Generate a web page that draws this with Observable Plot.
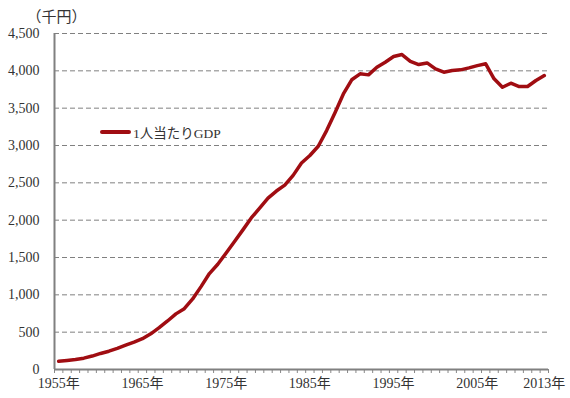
<!DOCTYPE html>
<html>
<head>
<meta charset="utf-8">
<script src="https://cdn.jsdelivr.net/npm/d3@7"></script>
<script src="https://cdn.jsdelivr.net/npm/@observablehq/plot@0.6"></script>
<style>
  html, body { margin: 0; padding: 0; background: #fff; }
  #wrap { position: relative; width: 570px; height: 398px; }
  #legend { position: absolute; left: 100px; top: 122px; display: flex; align-items: center;
    font-family: "Liberation Serif", "Noto Sans CJK JP", serif; font-size: 13.5px; color: #333; }
  #legend .sw { width: 31px; height: 4px; background: #a00d12; border-radius: 2px; margin-right: 2px; }
</style>
</head>
<body>
<div id="wrap">
  <div id="chart"></div>
  <div id="legend"><span class="sw"></span><span>1人当たりGDP</span></div>
</div>
<script>
const years = d3.range(1955, 2014);
const gdpPerCapita = [
  111, 122, 134, 152, 180, 215, 245, 282, 325, 366,
  412, 478, 560, 650, 745, 815, 945, 1110, 1285, 1410,
  1560, 1715, 1870, 2030, 2160, 2295, 2390, 2470, 2600, 2765,
  2866, 2990, 3200, 3440, 3690, 3880, 3960, 3946, 4048, 4115,
  4191, 4218, 4128, 4084, 4106, 4026, 3982, 4004, 4013, 4040,
  4070, 4094, 3893, 3780, 3834, 3790, 3790, 3870, 3937
];
const yTicks = [0, 500, 1000, 1500, 2000, 2500, 3000, 3500, 4000, 4500];
const gridTicks = [500, 1000, 1500, 2000, 2500, 3000, 3500, 4000, 4500];
const xLabelYears = [1955, 1965, 1975, 1985, 1995, 2005, 2013];
const unitLabel = "（千円）";
const yearSuffix = "年";

const data = years.map((y, i) => ({year: y, value: gdpPerCapita[i]}));
const boundaries = d3.range(1954.5, 2014, 1);

const font = '"Liberation Serif", "Noto Sans CJK JP", serif';

const chart = Plot.plot({
  width: 570,
  height: 398,
  marginTop: 33,
  marginBottom: 29,
  marginLeft: 54,
  marginRight: 22,
  style: {fontFamily: font, fontSize: "14px", color: "#333", background: "#fff"},
  x: {domain: [1954.5, 2013.5]},
  y: {domain: [0, 4500]},
  marks: [
    Plot.gridY(gridTicks, {stroke: "#808080", strokeOpacity: 1, strokeWidth: 1, strokeDasharray: "5,3"}),
    Plot.axisY(yTicks, {tickSize: 0, tickPadding: 15, tickFormat: d3.format(","), label: null, fontSize: 14}),
    Plot.axisX(boundaries, {tickSize: 4, tickFormat: () => "", stroke: "#888", label: null}),
    Plot.axisX(xLabelYears, {tickSize: 0, tickPadding: 9, tickFormat: d => d + yearSuffix, label: null, fontSize: 14}),
    Plot.ruleX([1954.5], {stroke: "#808080", strokeWidth: 2}),
    Plot.ruleY([0], {stroke: "#808080", strokeWidth: 2}),
    Plot.line(data, {x: "year", y: "value", stroke: "#a00d12", strokeWidth: 3.5, curve: "linear", strokeLinejoin: "round", strokeLinecap: "round"}),
    Plot.text([unitLabel], {frameAnchor: "top-left", dx: -28, dy: -22, textAnchor: "start", fontSize: 15, fill: "#333"})
  ]
});
document.getElementById("chart").appendChild(chart);
</script>
</body>
</html>
